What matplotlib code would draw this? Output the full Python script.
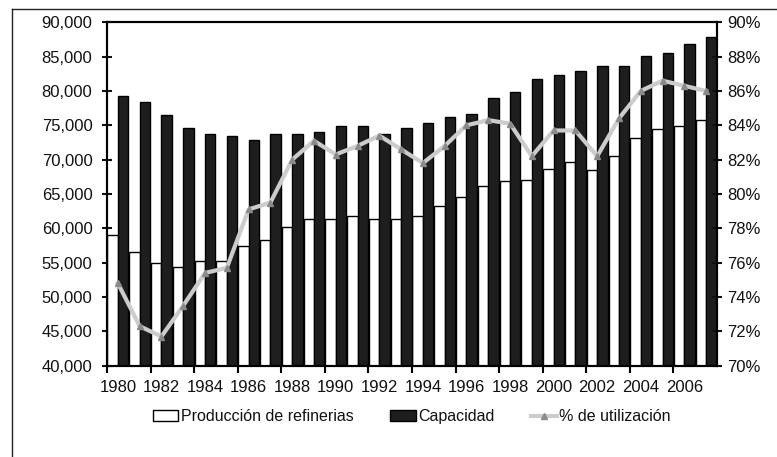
import numpy as np
import matplotlib.pyplot as plt
from matplotlib.lines import Line2D
from matplotlib.ticker import FuncFormatter, FixedLocator

plt.rcParams['font.family'] = ['Liberation Sans', 'DejaVu Sans']

# ─── Data ────────────────────────────────────────────────────────
years = list(range(1980, 2008))
produccion = [59100, 56600, 54900, 54300, 55200, 55200, 57500, 58300, 60200, 61400,
              61400, 61800, 61400, 61400, 61800, 63200, 64500, 66200, 66900, 67100,
              68600, 69700, 68500, 70600, 73200, 74400, 74900, 75800]
capacidad = [79200, 78400, 76500, 74600, 73700, 73400, 72800, 73700, 73700, 74000,
             74900, 74900, 73700, 74600, 75400, 76200, 76700, 79000, 79850, 81800,
             82300, 82900, 83700, 83700, 85100, 85600, 86800, 87900]
utilizacion = [74.8, 72.3, 71.7, 73.5, 75.4, 75.7, 79.1, 79.5, 82.0, 83.1,
               82.3, 82.8, 83.4, 82.6, 81.8, 82.8, 84.0, 84.3, 84.1, 82.2,
               83.7, 83.7, 82.2, 84.4, 86.0, 86.6, 86.3, 86.0]

TEXT = "#111111"

# ─── Figure ──────────────────────────────────────────────────────
fig = plt.figure(figsize=(7.77, 4.57), dpi=100)
W, H = 777, 457
ax = fig.add_axes([107 / W, 1 - 365.7 / H, (717 - 107) / W, (365.7 - 22.3) / H])

x = np.arange(len(years))
bw = 0.48
ax.bar(x - bw / 2, produccion, bw, color="white", edgecolor="black", linewidth=1.0,
       label="Producción de refinerias", zorder=2)
ax.bar(x + bw / 2, capacidad, bw, color="#1e1e1e", edgecolor="black", linewidth=1.0,
       label="Capacidad", zorder=2)

ax.set_xlim(-0.5, len(years) - 0.5)
ax.set_ylim(40000, 90000)
ax.set_yticks(np.arange(40000, 90001, 5000))
ax.yaxis.set_major_formatter(FuncFormatter(lambda v, p: f"{int(v):,}"))

# year labels at group centres, tick marks at every second boundary
ax.set_xticks(x[::2])
ax.set_xticklabels([str(y) for y in years[::2]])
ax.xaxis.set_minor_locator(FixedLocator(x[::2] - 0.5))
ax.tick_params(axis="x", which="major", length=0, pad=10, labelsize=12, colors=TEXT)
ax.tick_params(axis="x", which="minor", length=5, width=1.5, direction="out", color="black")
ax.tick_params(axis="y", direction="inout", length=7, width=1.5, pad=7,
               labelsize=12, colors=TEXT)
for s in ax.spines.values():
    s.set_linewidth(1.5)

# ─── Utilisation line ────────────────────────────────────────────
ax2 = ax.twinx()
ax2.plot(x, utilizacion, color="#cccccc", linewidth=3.0, marker="^", markersize=4,
         markerfacecolor="#8a8a8a", markeredgecolor="#8a8a8a", zorder=3,
         label="% de utilización")
ax2.set_ylim(70, 90)
ax2.set_yticks(np.arange(70, 91, 2))
ax2.yaxis.set_major_formatter(FuncFormatter(lambda v, p: f"{int(v)}%"))
ax2.tick_params(axis="y", direction="inout", length=7, width=1.5, pad=4,
                labelsize=12, colors=TEXT)
for s in ax2.spines.values():
    s.set_linewidth(1.5)

# ─── Legend ──────────────────────────────────────────────────────
h1, l1 = ax.get_legend_handles_labels()
h2, l2 = ax2.get_legend_handles_labels()
fig.legend(h1 + h2, l1 + l2, loc="center", bbox_to_anchor=(0.530, 1 - 416.7 / H),
           ncol=3, frameon=False, fontsize=11.5, handlelength=1.6,
           handletextpad=0.15, columnspacing=2.3, labelcolor=TEXT)

# outer chart border (runs off the right and bottom edges)
fig.add_artist(Line2D([11.7 / W, 1.0], [1 - 9.3 / H, 1 - 9.3 / H], color="#222222", linewidth=1.0))
fig.add_artist(Line2D([11.7 / W, 11.7 / W], [1 - 9.3 / H, 0.0], color="#222222", linewidth=1.0))

fig.savefig("out.png", dpi=100)
